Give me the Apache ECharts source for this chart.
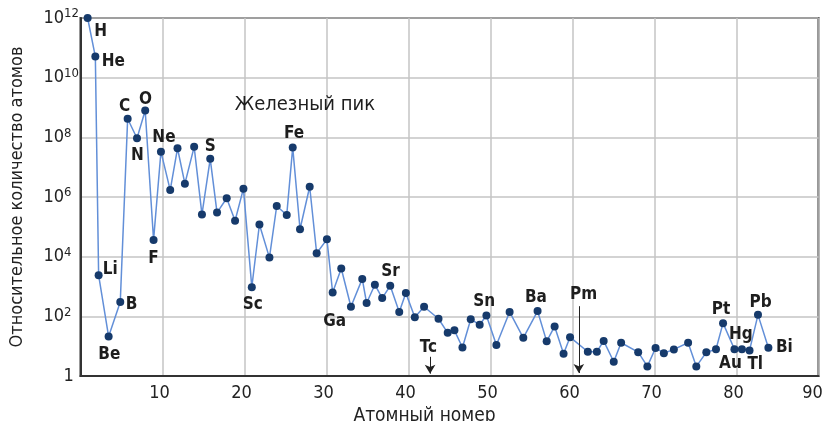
<!DOCTYPE html>
<html><head><meta charset="utf-8">
<script src="https://cdn.jsdelivr.net/npm/echarts@6/dist/echarts.min.js"></script>
<style>html,body{margin:0;padding:0;background:#fff}#c{width:824px;height:421px}</style>
</head><body><div id="c"></div>
<script>
// Position along the atomic-number axis
const positions = [0.87,1.81,2.21,3.43,4.85,5.75,6.89,7.89,8.91,9.81,10.94,11.83,12.73,13.86,14.81,15.82,16.65,17.83,18.85,19.87,20.89,21.82,23.04,23.93,25.15,25.88,26.77,27.95,28.8,30.05,30.75,31.8,32.98,34.36,34.89,35.9,36.79,37.77,38.87,39.68,40.77,41.9,43.66,44.78,45.6,46.58,47.59,48.68,49.5,50.72,52.33,54.0,55.74,56.85,57.82,58.91,59.7,61.87,62.97,63.8,65.03,65.93,68.01,69.13,70.13,71.14,72.36,74.1,75.1,76.32,77.5,78.36,79.75,80.66,81.59,82.62,83.89];
// Relative number of atoms
const abundances = [1e12,5.1e10,2.4e3,21,300,4.2e8,9.3e7,7.9e8,3.6e4,3.3e7,1.7e6,4.3e7,2.8e6,4.8e7,2.6e5,1.9e7,3.0e5,9.1e5,1.6e5,1.9e6,950,1.2e5,9.3e3,5.0e5,2.5e5,4.6e7,8.3e4,2.2e6,1.3e4,3.8e4,630,4.0e3,210,1.8e3,280,1150,410,1050,140,600,93,210,83,28,34,9,80,52,107,11,140,19,150,14.5,46,5.6,20,6.5,6.5,15,3,13,6.3,2.1,8.7,5.8,7.8,13,2.1,6.2,7.9,59,7.9,7.9,7.2,112,8.9];
// Element symbols shown next to points: point index -> symbol
const labelIndex = [0,1,2,3,4,5,6,7,8,9,15,20,25,30,37,48,52,71,72,73,74,75,76];
const labelNames = ['H','He','Li','Be','B','C','N','O','F','Ne','S','Sc','Fe','Ga','Sr','Sn','Ba','Pt','Au','Hg','Tl','Pb','Bi'];
// Axis ticks
const xTicks = [10,20,30,40,50,60,70,80,90];
const yExponents = [0,2,4,6,8,10,12];
// Text annotations
const peakText = 'Железный пик';
const missing = [{name:'Tc', x:42.63, from:4.4, to:1.2, labelAt:9.2, labelX:42.43},
                 {name:'Pm', x:60.77, from:219, to:1.26, labelAt:535, labelX:61.36}];
const peakTextAt = [27.37, 1.2e9];
const xTitle = 'Атомный номер';
const yTitle = 'Относительное количество атомов';

// ---- styling ----
const FONT = "'DejaVu Sans Condensed','Liberation Sans Narrow','DejaVu Sans',sans-serif";
const labelOffsets = {H:[13,13.5],He:[18,5.4],Li:[11.7,-5.7],Be:[0.7,18],B:[11.3,2.2],C:[-3,-11.7],N:[0.5,17],O:[0.3,-11.3],F:[0,18.2],Ne:[3,-14.3],S:[0,-12],Sc:[1,17.4],Fe:[1.3,-13.6],Ga:[2,28.7],Sr:[0.2,-14.4],Sn:[-2.2,-14.3],Ba:[-1.7,-13.3],Pt:[-2,-13.5],Au:[-4,14.2],Hg:[-1,-15],Tl:[5.7,14],Pb:[2.6,-11.8],Bi:[16,-0.5]};
const lg = v => Math.log10(v);

const lineData = positions.map((x,i) => {
  const k = labelIndex.indexOf(i);
  const item = {value:[x, lg(abundances[i])]};
  if (k >= 0) {
    const s = labelNames[k];
    item.name = s;
    item.label = {show:true, position:'inside', formatter: s, offset: labelOffsets[s]};
  }
  return item;
});

const annData = [{value:[peakTextAt[0], lg(peakTextAt[1])], name:peakText, label:{fontWeight:'normal', fontSize:20}}]
  .concat(missing.map(m => ({value:[m.labelX, lg(m.labelAt)], name:m.name})));

const chart = echarts.init(document.getElementById('c'), null, {renderer:'canvas'});
chart.setOption({
  animation:false,
  backgroundColor:'#fff',
  grid:{left:80.5, right:5.5, top:18, bottom:45, show:true, borderColor:'#333', borderWidth:2, containLabel:false, outerBoundsMode:'none'},
  xAxis:{type:'value', min:0, max:90, interval:10,
    axisLine:{show:true, lineStyle:{color:'#333', width:2}}, axisTick:{show:false},
    splitLine:{show:true, lineStyle:{color:'#c4c4c4', width:1.5}},
    axisLabel:{margin:8, color:'#222', fontFamily:FONT, fontSize:18, hideOverlap:false,
      formatter: v => xTicks.indexOf(v) < 0 ? '' : (v===90 ? '{e|90}' : '{n|'+v+'}'),
      rich:{n:{fontFamily:FONT, fontSize:18, color:'#222', padding:[0,6,0,0]}, e:{fontFamily:FONT, fontSize:18, color:'#222', padding:[0,12,0,0]}}},
    name:xTitle, nameLocation:'middle', nameGap:24,
    nameTextStyle:{fontFamily:FONT, fontSize:19, color:'#222', padding:[0,50,0,0], verticalAlign:'top'}
  },
  yAxis:{type:'value', min:0, max:12, interval:2,
    axisLine:{show:true, lineStyle:{color:'#333', width:2}}, axisTick:{show:false},
    splitLine:{show:true, lineStyle:{color:'#c4c4c4', width:1.5}},
    axisLabel:{align:'left', margin:37, color:'#222', fontFamily:FONT, fontSize:18,
      formatter: v => yExponents.indexOf(v) < 0 ? '' : (v===0 ? '{one|1}' : '{b|10}{s|'+v+'}'),
      rich:{b:{fontFamily:FONT, fontSize:18, color:'#222'}, s:{fontFamily:FONT, fontSize:13, color:'#222', verticalAlign:'top', padding:[0,0,8,0]}, one:{fontFamily:FONT, fontSize:18, color:'#222', padding:[0,0,0,20]}}},
    name:yTitle, nameLocation:'middle', nameGap:54, nameRotate:90,
    nameTextStyle:{fontFamily:FONT, fontSize:18, color:'#222'}
  },
  series:[
    {type:'line', data:lineData, symbol:'circle', symbolSize:8, clip:false, z:3,
      itemStyle:{color:'#163a6b'}, lineStyle:{color:'#628fd8', width:1.5},
      label:{fontFamily:FONT, fontWeight:'bold', fontSize:17, color:'#1e1e1e'}},
    {type:'scatter', data:annData, symbolSize:0, silent:true, z:4,
      itemStyle:{opacity:1},
      label:{show:true, position:'inside', formatter:'{b}', fontFamily:FONT, fontWeight:'bold', fontSize:17, color:'#1e1e1e', opacity:1},
      markLine:{silent:true, symbol:['none','arrow'], symbolSize:[8,9], label:{show:false},
        lineStyle:{color:'#222', width:1, type:'solid', opacity:1},
        data: missing.map(m => [{coord:[m.x, lg(m.from)]},{coord:[m.x, lg(m.to)]}])}}
  ]
});
</script></body></html>
